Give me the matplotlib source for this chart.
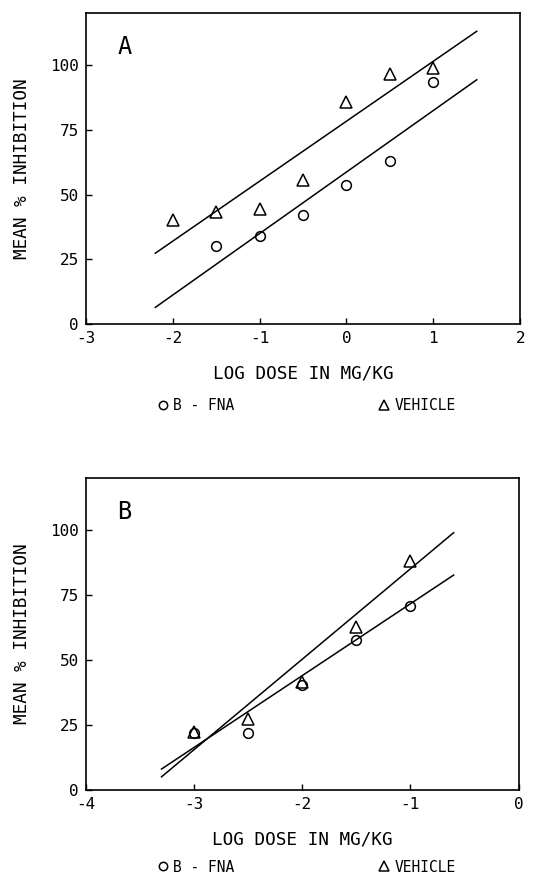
import matplotlib
matplotlib.use("Agg")
import matplotlib.pyplot as plt
from matplotlib.lines import Line2D

# Panel A data
dose_vehicle_a = [-2.0, -1.5, -1.0, -0.5, 0.0, 0.5, 1.0]
inhib_vehicle_a = [40.4, 43.2, 44.5, 55.6, 85.8, 96.7, 98.7]
dose_bfna_a = [-1.5, -1.0, -0.5, 0.0, 0.5, 1.0]
inhib_bfna_a = [30.1, 34.1, 42.3, 53.6, 63.0, 93.5]
fit_x_a = [-2.2, 1.5]
fit_vehicle_a = [27.4, 113.0]
fit_bfna_a = [6.5, 94.3]

# Panel B data
dose_b = [-3.0, -2.5, -2.0, -1.5, -1.0]
inhib_vehicle_b = [22.4, 27.2, 41.4, 62.8, 88.0]
inhib_bfna_b = [21.8, 21.8, 40.6, 57.7, 70.9]
fit_x_b = [-3.3, -0.6]
fit_vehicle_b = [5.1, 99.0]
fit_bfna_b = [8.1, 82.7]

yticks = [0, 25, 50, 75, 100]
xticks_a = [-3, -2, -1, 0, 1, 2]
xticks_b = [-4, -3, -2, -1, 0]

plt.rcParams['font.family'] = ['DejaVu Sans Mono', 'DejaVu Sans']
plt.rcParams['axes.unicode_minus'] = False

fig = plt.figure(figsize=(5.43, 8.74), dpi=100)
fig.patch.set_facecolor('white')

ax_a = fig.add_axes([0.158, 0.629, 0.800, 0.356])
ax_b = fig.add_axes([0.158, 0.096, 0.797, 0.357])


def style_panel(ax, xticks, xlim, letter):
    ax.set_xlim(*xlim)
    ax.set_ylim(0, 120)
    ax.set_xticks(xticks)
    ax.set_yticks(yticks)
    ax.tick_params(direction='in', length=4, width=1.0, labelsize=11.5, pad=5)
    for s in ax.spines.values():
        s.set_linewidth(1.2)
    ax.set_xlabel("LOG DOSE IN MG/KG", fontsize=12.7, labelpad=13)
    ax.set_ylabel("MEAN % INHIBITION", fontsize=12.7, labelpad=14)
    ax.text(0.09, 0.93, letter, transform=ax.transAxes, fontsize=17,
            ha='center', va='top')


mk = dict(linestyle='none', markerfacecolor='none', markeredgecolor='black',
          markeredgewidth=1.1)

ax_a.plot(fit_x_a, fit_vehicle_a, color='black', linewidth=1.1)
ax_a.plot(fit_x_a, fit_bfna_a, color='black', linewidth=1.1)
ax_a.plot(dose_vehicle_a, inhib_vehicle_a, marker='^', markersize=8, **mk)
ax_a.plot(dose_bfna_a, inhib_bfna_a, marker='o', markersize=7, **mk)
style_panel(ax_a, xticks_a, (-3, 2), 'A')

ax_b.plot(fit_x_b, fit_vehicle_b, color='black', linewidth=1.1)
ax_b.plot(fit_x_b, fit_bfna_b, color='black', linewidth=1.1)
ax_b.plot(dose_b, inhib_vehicle_b, marker='^', markersize=8, **mk)
ax_b.plot(dose_b, inhib_bfna_b, marker='o', markersize=7, **mk)
style_panel(ax_b, xticks_b, (-4, 0), 'B')

handles = [Line2D([], [], marker='o', markersize=6, **mk),
           Line2D([], [], marker='^', markersize=7, **mk)]
labels = ["B - FNA", "VEHICLE"]

for y in (1 - 406 / 874, 1 - 867 / 874):
    fig.legend(handles, labels, loc='center left',
               bbox_to_anchor=(157 / 543, y), ncol=2, frameon=False,
               fontsize=10.5, handlelength=0.8, handletextpad=0.3,
               columnspacing=9.9, borderpad=0, borderaxespad=0)

fig.savefig("out.png", dpi=100, facecolor='white')
